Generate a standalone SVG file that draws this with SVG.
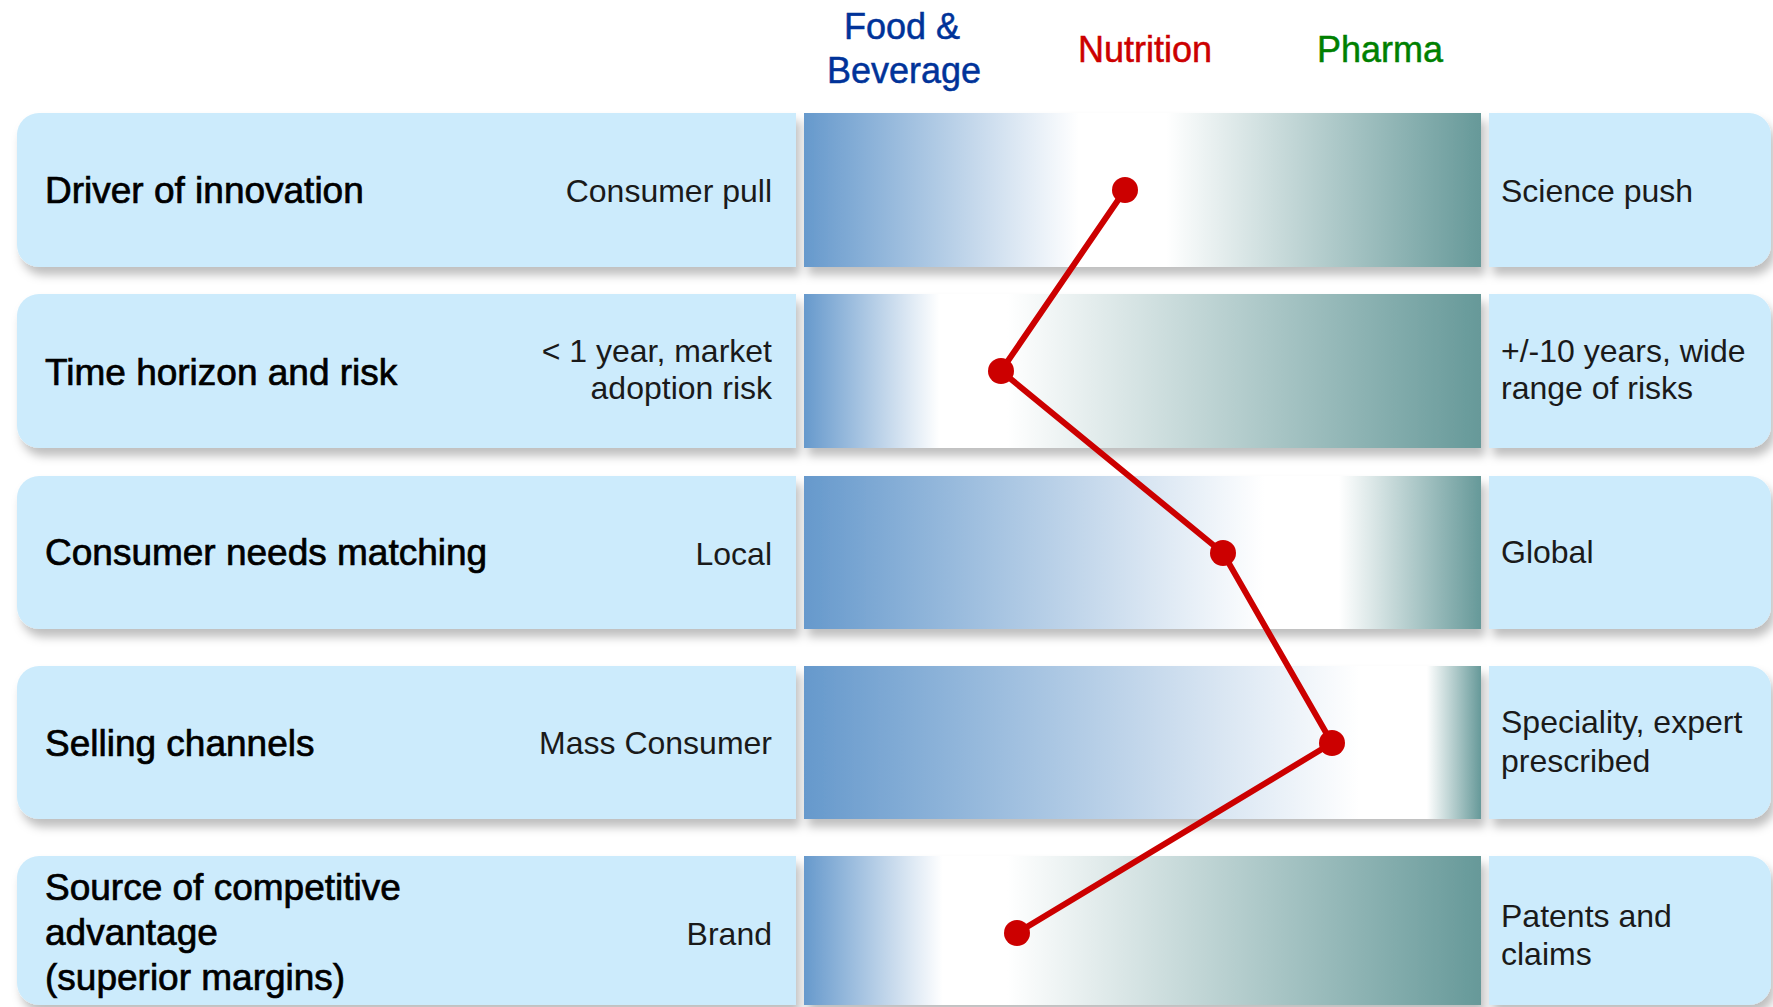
<svg xmlns="http://www.w3.org/2000/svg" width="1773" height="1007" viewBox="0 0 1773 1007">
  <style>
    .box { fill: #CCEBFC; }
    .lbl { font-family: "Liberation Sans", Arial, sans-serif; font-size: 37px; fill: #000; stroke: #000; stroke-width: 0.7px; }
    .lo { font-family: "Liberation Sans", Arial, sans-serif; font-size: 32px; fill: #1a1a1a; text-anchor: end; }
    .hi { font-family: "Liberation Sans", Arial, sans-serif; font-size: 32px; fill: #1a1a1a; }
    .hdr { font-family: "Liberation Sans", Arial, sans-serif; font-size: 36px; text-anchor: middle; stroke-width: 0.5px; }
    .line { fill: none; stroke: #CC0000; stroke-width: 6; stroke-linejoin: round; }
    .dot { fill: #CC0000; }
  </style>
  <defs>
    <filter id="shadow" x="-5%" y="-20%" width="110%" height="150%">
      <feDropShadow dx="4" dy="8" stdDeviation="5" flood-color="#000" flood-opacity="0.25"/>
    </filter>
    <linearGradient id="g1"><stop offset="0" stop-color="#6699CC"/><stop offset="0.406" stop-color="#FFFFFF"/><stop offset="0.535" stop-color="#FFFFFF"/><stop offset="1" stop-color="#669999"/></linearGradient>
    <linearGradient id="g2"><stop offset="0" stop-color="#6699CC"/><stop offset="0.20" stop-color="#FFFFFF"/><stop offset="0.30" stop-color="#FFFFFF"/><stop offset="1" stop-color="#669999"/></linearGradient>
    <linearGradient id="g3"><stop offset="0" stop-color="#6699CC"/><stop offset="0.68" stop-color="#FFFFFF"/><stop offset="0.79" stop-color="#FFFFFF"/><stop offset="1" stop-color="#669999"/></linearGradient>
    <linearGradient id="g4"><stop offset="0" stop-color="#6699CC"/><stop offset="0.82" stop-color="#FFFFFF"/><stop offset="0.92" stop-color="#FFFFFF"/><stop offset="1" stop-color="#669999"/></linearGradient>
    <linearGradient id="g5"><stop offset="0" stop-color="#6699CC"/><stop offset="0.205" stop-color="#FFFFFF"/><stop offset="0.30" stop-color="#FFFFFF"/><stop offset="1" stop-color="#669999"/></linearGradient>
  </defs>

  <rect width="1773" height="1007" fill="#FFFFFF"/>

  <!-- column headings -->
  <g id="headings">
    <text class="hdr" x="902" y="39" fill="#003399" stroke="#003399">Food &amp;</text>
    <text class="hdr" x="904" y="83" fill="#003399" stroke="#003399">Beverage</text>
    <text class="hdr" x="1145" y="62" fill="#CC0000" stroke="#CC0000">Nutrition</text>
    <text class="hdr" x="1380" y="62" fill="#008000" stroke="#008000">Pharma</text>
  </g>

  <!-- row 1 -->
  <g id="row-driver">
    <g filter="url(#shadow)">
      <path class="box" d="M39,113 H796 V267 H39 A22,22 0 0 1 17,245 V135 A22,22 0 0 1 39,113 Z"/>
      <rect x="804" y="113" width="677" height="154" fill="url(#g1)"/>
      <path class="box" d="M1489,113 H1749 A22,22 0 0 1 1771,135 V245 A22,22 0 0 1 1749,267 H1489 Z"/>
    </g>
    <text class="lbl" x="45" y="203">Driver of innovation</text>
    <text class="lo" x="772" y="202">Consumer pull</text>
    <text class="hi" x="1501" y="202">Science push</text>
  </g>

  <!-- row 2 -->
  <g id="row-time">
    <g filter="url(#shadow)">
      <path class="box" d="M39,294 H796 V448 H39 A22,22 0 0 1 17,426 V316 A22,22 0 0 1 39,294 Z"/>
      <rect x="804" y="294" width="677" height="154" fill="url(#g2)"/>
      <path class="box" d="M1489,294 H1749 A22,22 0 0 1 1771,316 V426 A22,22 0 0 1 1749,448 H1489 Z"/>
    </g>
    <text class="lbl" x="45" y="385">Time horizon and risk</text>
    <text class="lo" x="772" y="362">&lt; 1 year, market</text>
    <text class="lo" x="772" y="399">adoption risk</text>
    <text class="hi" x="1501" y="362">+/-10 years, wide</text>
    <text class="hi" x="1501" y="399">range of risks</text>
  </g>

  <!-- row 3 -->
  <g id="row-needs">
    <g filter="url(#shadow)">
      <path class="box" d="M39,476 H796 V629 H39 A22,22 0 0 1 17,607 V498 A22,22 0 0 1 39,476 Z"/>
      <rect x="804" y="476" width="677" height="153" fill="url(#g3)"/>
      <path class="box" d="M1489,476 H1749 A22,22 0 0 1 1771,498 V607 A22,22 0 0 1 1749,629 H1489 Z"/>
    </g>
    <text class="lbl" x="45" y="565">Consumer needs matching</text>
    <text class="lo" x="772" y="565">Local</text>
    <text class="hi" x="1501" y="563">Global</text>
  </g>

  <!-- row 4 -->
  <g id="row-channels">
    <g filter="url(#shadow)">
      <path class="box" d="M39,666 H796 V819 H39 A22,22 0 0 1 17,797 V688 A22,22 0 0 1 39,666 Z"/>
      <rect x="804" y="666" width="677" height="153" fill="url(#g4)"/>
      <path class="box" d="M1489,666 H1749 A22,22 0 0 1 1771,688 V797 A22,22 0 0 1 1749,819 H1489 Z"/>
    </g>
    <text class="lbl" x="45" y="756">Selling channels</text>
    <text class="lo" x="772" y="754">Mass Consumer</text>
    <text class="hi" x="1501" y="733">Speciality, expert</text>
    <text class="hi" x="1501" y="772">prescribed</text>
  </g>

  <!-- row 5 -->
  <g id="row-advantage">
    <g filter="url(#shadow)">
      <path class="box" d="M39,856 H796 V1005 H39 A22,22 0 0 1 17,983 V878 A22,22 0 0 1 39,856 Z"/>
      <rect x="804" y="856" width="677" height="149" fill="url(#g5)"/>
      <path class="box" d="M1489,856 H1749 A22,22 0 0 1 1771,878 V983 A22,22 0 0 1 1749,1005 H1489 Z"/>
    </g>
    <text class="lbl" x="45" y="900">Source of competitive</text>
    <text class="lbl" x="45" y="945">advantage</text>
    <text class="lbl" x="45" y="990">(superior margins)</text>
    <text class="lo" x="772" y="945">Brand</text>
    <text class="hi" x="1501" y="927">Patents and</text>
    <text class="hi" x="1501" y="965">claims</text>
  </g>

  <!-- nutrition profile across the scales -->
  <g id="connectors">
    <polyline class="line" points="1125,190 1001,371 1223,553 1332,743 1017,933"/>
    <circle class="dot" cx="1125" cy="190" r="13"/>
    <circle class="dot" cx="1001" cy="371" r="13"/>
    <circle class="dot" cx="1223" cy="553" r="13"/>
    <circle class="dot" cx="1332" cy="743" r="13"/>
    <circle class="dot" cx="1017" cy="933" r="13"/>
  </g>
</svg>
